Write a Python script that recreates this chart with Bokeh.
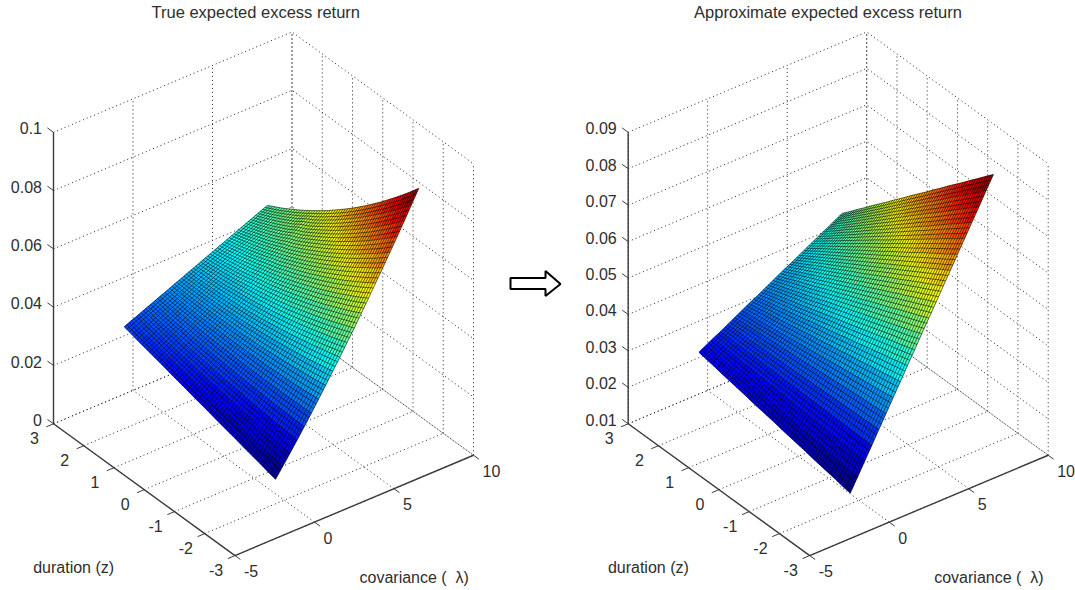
from bokeh.embed import file_html
from bokeh.layouts import row
from bokeh.models import Range1d
from bokeh.plotting import figure
from bokeh.resources import INLINE

# Axis ticks
lambda_ticks = [-5, 0, 5, 10]
duration_ticks = [-3, -2, -1, 0, 1, 2, 3]
true_value_ticks = ["0", "0.02", "0.04", "0.06", "0.08", "0.1"]
approx_value_ticks = ["0.01", "0.02", "0.03", "0.04", "0.05", "0.06", "0.07", "0.08", "0.09"]

# Surface grid: covariance from -1.5 to 7.5, duration from -2.5 to 2.5
lambda_grid = [-1.5, -1.05, -0.6, -0.15, 0.3, 0.75, 1.2, 1.65, 2.1, 2.55, 3.0, 3.45, 3.9, 4.35, 4.8, 5.25, 5.7, 6.15, 6.6, 7.05, 7.5]
duration_grid = [-2.5, -2.25, -2.0, -1.75, -1.5, -1.25, -1.0, -0.75, -0.5, -0.25, 0.0, 0.25, 0.5, 0.75, 1.0, 1.25, 1.5, 1.75, 2.0, 2.25, 2.5]

# Estimated surface heights in units of 1e-4; one row per duration, one column per covariance
true_return = [
    [144,178,212,247,283,319,356,394,432,470,510,549,590,631,673,715,758,801,845,890,935],
    [151,184,216,250,284,318,354,389,426,462,500,538,576,615,655,695,736,778,820,862,905],
    [159,189,221,252,285,318,351,385,420,455,490,527,563,600,638,677,715,755,795,835,876],
    [166,195,225,255,286,317,349,382,414,448,482,516,551,586,622,659,696,733,771,809,848],
    [173,201,229,258,287,317,347,378,409,441,473,506,539,572,606,641,676,711,747,784,821],
    [181,207,234,261,289,317,346,375,405,435,465,496,527,559,591,624,657,691,725,760,794],
    [188,213,238,264,291,317,345,372,400,429,457,487,516,546,577,608,639,671,703,736,769],
    [195,219,243,268,292,318,343,370,396,423,450,478,506,534,563,592,622,652,682,713,744],
    [202,225,248,271,294,318,343,367,392,418,443,469,496,523,550,577,605,633,662,691,720],
    [210,231,253,274,297,319,342,365,389,413,437,461,486,512,537,563,589,616,642,670,697],
    [217,237,257,278,299,320,342,364,386,408,431,454,477,501,525,549,574,599,624,649,675],
    [224,243,262,282,302,322,342,362,383,404,426,447,469,491,514,536,559,583,606,630,654],
    [232,249,267,286,304,323,342,361,381,400,420,441,461,482,503,524,545,567,589,611,633],
    [239,256,273,290,307,325,343,361,379,397,416,435,454,473,492,512,532,552,572,593,614],
    [246,262,278,294,310,327,343,360,377,395,412,430,448,466,484,502,521,540,559,578,595],
    [254,268,283,298,313,329,344,360,376,392,408,424,440,457,474,491,508,525,542,559,577],
    [261,275,289,303,317,331,345,360,375,389,404,419,434,450,465,481,496,512,528,544,560],
    [268,281,294,307,320,334,347,360,374,388,401,415,429,443,457,471,486,500,514,529,544],
    [275,287,300,312,324,336,349,361,374,386,399,412,424,437,450,463,476,489,502,515,528],
    [283,294,305,317,328,339,351,362,374,385,397,408,420,431,443,455,466,478,490,502,514],
    [290,301,311,322,332,343,353,364,374,385,395,406,416,427,437,448,458,469,479,490,500],
]
approx_return = [
    [177,212,248,283,319,354,390,425,461,496,532,567,602,638,673,709,744,780,815,851,886],
    [181,215,250,284,318,352,386,421,455,489,523,557,592,626,660,694,728,763,797,831,866],
    [186,219,251,284,317,350,383,416,449,482,515,548,581,614,647,680,713,746,779,812,845],
    [190,221,253,285,317,349,380,412,444,476,507,539,571,603,634,666,698,730,761,793,825],
    [194,225,255,286,316,347,377,408,438,469,499,530,560,591,621,652,682,713,743,774,804],
    [198,228,257,286,315,345,374,403,433,462,491,520,550,579,608,638,667,696,725,755,784],
    [203,231,259,287,315,343,371,399,427,455,483,511,539,567,595,623,651,679,707,735,764],
    [207,234,260,287,314,341,368,395,421,448,475,502,529,556,582,609,636,663,690,716,743],
    [211,237,262,288,313,339,365,390,416,441,467,493,518,544,569,595,620,646,672,697,723],
    [215,240,264,288,313,337,361,386,410,434,459,483,507,532,556,581,605,629,654,678,702],
    [220,243,266,289,312,335,358,381,404,428,451,474,497,520,543,566,589,613,636,659,682],
    [224,246,268,289,311,333,355,377,399,421,443,465,486,508,530,552,574,596,618,640,662],
    [228,249,269,290,311,331,352,373,393,414,435,455,476,497,517,538,559,579,600,621,641],
    [232,252,271,291,310,329,349,368,388,407,427,446,465,485,504,524,543,563,582,601,621],
    [237,255,273,291,309,328,346,364,382,400,418,437,455,473,491,509,528,546,564,582,600],
    [241,258,275,292,309,326,342,359,376,393,410,427,444,461,478,495,512,529,546,563,580],
    [245,261,276,292,308,324,339,355,371,387,402,418,434,450,465,481,497,512,528,544,560],
    [249,264,278,293,307,322,336,351,365,380,394,409,423,438,452,467,481,496,510,525,539],
    [254,267,280,293,307,320,333,347,360,373,386,400,413,426,439,453,466,479,492,506,519],
    [258,270,282,294,306,318,330,342,354,366,378,390,402,414,426,438,450,462,475,487,498],
    [262,273,284,294,305,316,327,338,348,359,370,381,392,402,413,424,435,446,456,467,478],
]

FONT = "Liberation Sans"
TXT = "#2e2e2e"
MESH_SPLIT = 3   # wire lines drawn per facet, as in the fine black wire of the original


def jet(f):
    f = max(0.0, min(1.0, f))
    c = lambda a: max(0.0, min(1.0, 1.5 - abs(4 * f - a)))
    return "#%02x%02x%02x" % tuple(int(round(255 * c(a))) for a in (3, 2, 1))


def panel(title, title_left, left, right, dx, vticks, table, arrow=False):
    vals = [float(s) for s in vticks]
    vmin, vmax = vals[0], vals[-1]

    def pr(lam, z, v):
        return (234.5 + dx + 15.9 * (lam + 5) - 30.25 * (z + 3),
                555 - 6.7 * (lam + 5) - 22 * (z + 3) - 292 * (v - vmin) / (vmax - vmin))

    p = figure(width=right - left, height=590, x_range=Range1d(left, right), y_range=Range1d(590, 20),
               toolbar_location=None, output_backend="svg", min_border=0, min_border_top=20,
               min_border_left=0, min_border_right=0, min_border_bottom=0, title=title)
    p.axis.visible = False
    p.grid.visible = False
    p.outline_line_color = None
    p.title.text_font = FONT
    p.title.text_font_size = "16.5px"
    p.title.text_font_style = "normal"
    p.title.text_color = TXT
    p.title.align = "left"
    p.title.offset = title_left - left
    p.title.standoff = 1

    l0, l1 = lambda_ticks[0], lambda_ticks[-1]
    z0, z1 = duration_ticks[0], duration_ticks[-1]

    # dotted grid on floor and walls
    segs = []
    for lam in lambda_ticks:
        segs.append([pr(lam, z0, vmin), pr(lam, z1, vmin)])
        segs.append([pr(lam, z1, vmin), pr(lam, z1, vmax)])
    for z in duration_ticks:
        segs.append([pr(l0, z, vmin), pr(l1, z, vmin)])
        segs.append([pr(l1, z, vmin), pr(l1, z, vmax)])
    for v in vals:
        segs.append([pr(l0, z1, v), pr(l1, z1, v), pr(l1, z0, v)])
    p.multi_line([[a[0] for a in s] for s in segs], [[a[1] for a in s] for s in segs],
                 line_color="#222222", line_width=1, line_dash="1 3")

    # surface facets
    v_all = [c for r in table for c in r]
    smin, smax = min(v_all), max(v_all)
    node = [[pr(lambda_grid[a], duration_grid[b], table[b][a] * 1e-4) for a in range(len(lambda_grid))]
            for b in range(len(duration_grid))]
    xs, ys, cols = [], [], []
    for i in range(len(duration_grid) - 2, -1, -1):
        for j in range(len(lambda_grid) - 2, -1, -1):
            corners = [(j, i), (j + 1, i), (j + 1, i + 1), (j, i + 1)]
            xs.append([node[b][a][0] for a, b in corners])
            ys.append([node[b][a][1] for a, b in corners])
            mean = sum(table[b][a] for a, b in corners) / 4
            cols.append(jet((mean - smin) / (smax - smin)))
    p.patches(xs, ys, fill_color=cols, line_color=cols, line_width=0.5)

    # black wire across the facets
    nb, na = len(duration_grid), len(lambda_grid)
    wx, wy = [], []
    for b in range(nb):
        for k in range(MESH_SPLIT if b < nb - 1 else 1):
            f = k / MESH_SPLIT
            up = min(b + 1, nb - 1)
            wx.append([node[b][a][0] * (1 - f) + node[up][a][0] * f for a in range(na)])
            wy.append([node[b][a][1] * (1 - f) + node[up][a][1] * f for a in range(na)])
    for a in range(na):
        for k in range(MESH_SPLIT if a < na - 1 else 1):
            f = k / MESH_SPLIT
            up = min(a + 1, na - 1)
            wx.append([node[b][a][0] * (1 - f) + node[b][up][0] * f for b in range(nb)])
            wy.append([node[b][a][1] * (1 - f) + node[b][up][1] * f for b in range(nb)])
    p.multi_line(wx, wy, line_color="#000000", line_alpha=0.8, line_width=0.7)

    # solid axes
    ax = [[pr(l0, z1, vmin), pr(l0, z1, vmax)], [pr(l0, z1, vmin), pr(l0, z0, vmin)], [pr(l0, z0, vmin), pr(l1, z0, vmin)]]
    p.multi_line([[a[0] for a in s] for s in ax], [[a[1] for a in s] for s in ax],
                 line_color="#3c3c3c", line_width=1.4)

    # ticks and tick labels
    tk = []
    for v in vals:
        tk.append([pr(l0, z1, v), pr(l0, z1 + 0.2, v)])
    for z in duration_ticks:
        tk.append([pr(l0, z, vmin), pr(l0 - 0.45, z, vmin)])
    for lam in lambda_ticks:
        tk.append([pr(lam, z0, vmin), pr(lam, z0 - 0.18, vmin)])
    p.multi_line([[a[0] for a in s] for s in tk], [[a[1] for a in s] for s in tk], line_color="#3c3c3c", line_width=1)

    def label(xx, yy, tt, **kw):
        p.text(xx, yy, text=tt, text_font={"value": FONT}, text_font_size={"value": "16px"}, text_color=TXT,
               text_baseline="middle", **kw)

    q = [pr(l0, z1, v) for v in vals]
    label([a[0] - 11.5 for a in q], [a[1] - 4 for a in q], vticks, text_align="right")
    q = [pr(l0, z, vmin) for z in duration_ticks]
    label([a[0] - 19 for a in q], [a[1] + 14 for a in q], [str(z) for z in duration_ticks], text_align="center")
    q = [pr(lam, z0, vmin) for lam in lambda_ticks]
    label([a[0] + 9 for a in q], [a[1] + 15.5 for a in q], [str(l) for l in lambda_ticks], text_align="left")
    label([32.7 + dx], [567], ["duration (z)"], text_align="left")
    label([359 + dx], [577], ["covariance (\u00a0\u00a0\u03bb)"], text_align="left")

    if arrow:
        p.patch([510, 545, 545, 560, 545, 545, 510], [277, 277, 270, 283, 295, 288, 288],
                fill_color="white", line_color="black", line_width=2)
    return p


p1 = panel("True expected excess return", 151, 0, 505, 0, true_value_ticks, true_return)
p2 = panel("Approximate expected excess return", 693.6, 505, 1075, 574.7, approx_value_ticks, approx_return, arrow=True)
page = row(p1, p2)
open("out.html", "w").write(file_html(page, INLINE))
